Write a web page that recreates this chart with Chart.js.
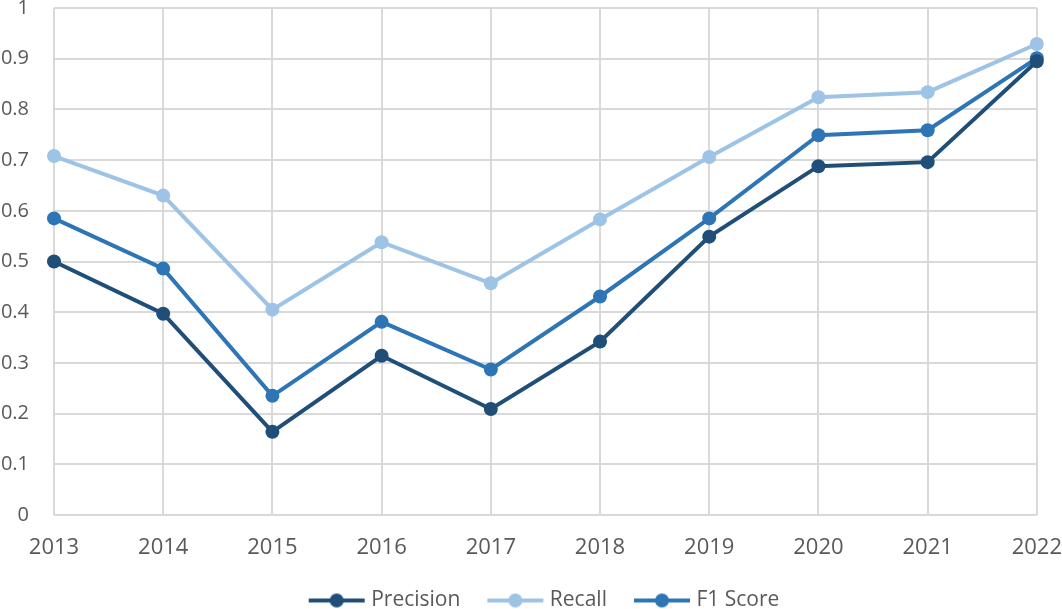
<!DOCTYPE html>
<html><head><meta charset="utf-8">
<script src="https://cdn.jsdelivr.net/npm/chart.js@4/dist/chart.umd.min.js"></script>
<style>html,body{margin:0;padding:0;background:#fff;}canvas{display:block;}</style>
</head><body>
<canvas id="c" width="1062" height="609"></canvas>
<script>
const years = ["2013","2014","2015","2016","2017","2018","2019","2020","2021","2022"];
const precision = [0.500,0.397,0.164,0.314,0.209,0.342,0.549,0.688,0.696,0.895];
const recall = [0.708,0.630,0.405,0.538,0.457,0.583,0.706,0.824,0.834,0.929];
const f1 = [0.585,0.486,0.235,0.381,0.287,0.431,0.585,0.749,0.759,0.901];
const seriesNames = ["Precision","Recall","F1 Score"];
const colors = ["#1F4E79","#9DC3E6","#2E75B6"];

function legendIcon(color){
  const cv=document.createElement('canvas');
  cv.width=90; cv.height=16;
  const g=cv.getContext('2d');
  g.strokeStyle=color; g.lineWidth=4; g.lineCap='butt';
  g.beginPath(); g.moveTo(32,8); g.lineTo(88,8); g.stroke();
  g.fillStyle=color; g.beginPath(); g.arc(60,8,7,0,Math.PI*2); g.fill();
  return cv;
}
const icons = colors.map(legendIcon);
const font = "'Open Sans', 'Liberation Sans', sans-serif";
const mk=(i,data)=>({label:seriesNames[i],data,borderColor:colors[i],backgroundColor:colors[i],
  borderWidth:4,pointRadius:7,pointHoverRadius:7,pointBackgroundColor:colors[i],pointBorderWidth:0,tension:0,fill:false});
new Chart(document.getElementById('c'),{
  type:'line',
  data:{labels:years,datasets:[mk(0,precision),mk(1,recall),mk(2,f1)]},
  options:{
    responsive:false,animation:false,
    layout:{padding:{top:8,right:0,left:0,bottom:-12}},
    plugins:{
      tooltip:{enabled:false},
      legend:{position:'bottom',
        labels:{font:{family:font,size:21},color:'#595959',usePointStyle:true,pointStyleWidth:78,padding:1,
          generateLabels:(chart)=>chart.data.datasets.map((d,i)=>({text:d.label,pointStyle:icons[i],fillStyle:d.borderColor,strokeStyle:d.borderColor,lineWidth:0,hidden:false,datasetIndex:i,fontColor:'#595959'}))}}
    },
    scales:{
      x:{offset:false,grid:{color:'#d9d9d9',lineWidth:2,drawTicks:true,tickLength:20,tickColor:'rgba(0,0,0,0)'},border:{display:false},
        ticks:{font:{family:font,size:22},color:'#595959',padding:0,maxRotation:0},
        afterFit:(s)=>{s.height=74;}},
      y:{min:0,max:1,grid:{color:'#d9d9d9',lineWidth:2,drawTicks:true,tickLength:25,tickColor:'rgba(0,0,0,0)'},border:{display:false},
        ticks:{stepSize:0.1,font:{family:font,size:20,lineHeight:0.8},color:'#595959',padding:0,
          callback:(v)=>Math.round(v*10)/10+''},
        afterFit:(s)=>{s.width=54;}}
    }
  }
});
</script>
</body></html>
